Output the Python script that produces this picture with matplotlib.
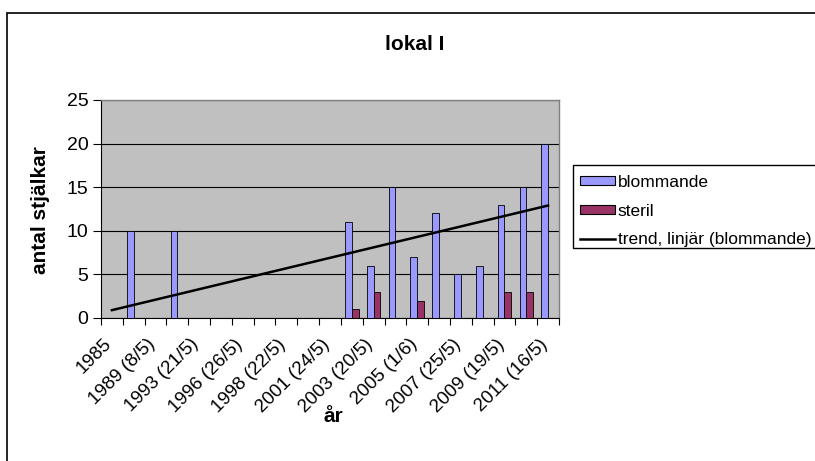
import matplotlib
matplotlib.use("Agg")
import matplotlib.pyplot as plt
import matplotlib.transforms as mtransforms
import numpy as np
from matplotlib.patches import Rectangle, Patch
from matplotlib.lines import Line2D

plt.rcParams['font.family'] = ['Liberation Sans', 'DejaVu Sans']

# ---- data ----
tick_labels = ["1985", "1989 (8/5)", "1993 (21/5)", "1996 (26/5)", "1998 (22/5)",
               "2001 (24/5)", "2003 (20/5)", "2005 (1/6)", "2007 (25/5)",
               "2009 (19/5)", "2011 (16/5)"]
n_categories = 21
blommande = [0, 10, 0, 10, 0, 0, 0, 0, 0, 0, 0, 11, 6, 15, 7, 12, 5, 6, 13, 15, 20]
steril =    [0, 0, 0, 0, 0, 0, 0, 0, 0, 0, 0, 1, 3, 0, 2, 0, 0, 0, 3, 3, 0]
trend_ends = [0.9, 12.9]   # linear trend (blommande) at first and last category
y_ticks = [0, 5, 10, 15, 20, 25]

W, H = 815, 461
fig = plt.figure(figsize=(W/100, H/100), dpi=100)

# outer chart border (cropped on the right and bottom)
fig.patches.append(Rectangle((7/W, -0.1), 1.2, (H-13)/H + 0.1, transform=fig.transFigure,
                             fill=False, edgecolor='black', linewidth=1.2))

ax = fig.add_axes([101/W, 1-318/H, (559-101)/W, (318-100)/H])
ax.set_facecolor('#C0C0C0')

x = np.arange(n_categories)
bw = 0.31
ax.bar(x - bw/2, blommande, width=bw, color='#9999FF', edgecolor='black', linewidth=0.6, zorder=3)
ax.bar(x + bw/2, steril, width=bw, color='#993366', edgecolor='black', linewidth=0.6, zorder=3)
ax.plot([x[0], x[-1]], trend_ends, color='black', linewidth=1.8, zorder=4)

ax.set_xlim(-0.5, n_categories - 0.5)
ax.set_ylim(0, 25)
ax.set_yticks(y_ticks)
ax.yaxis.grid(True, color='black', linewidth=0.8, zorder=1)
ax.set_axisbelow(True)

ax.set_xticks(np.arange(-0.5, n_categories, 1.0), minor=True)
ax.set_xticks(x[::2])
ax.set_xticklabels(tick_labels, rotation=45, ha='right', va='center', rotation_mode='anchor')
ax.tick_params(axis='x', which='major', length=0, pad=17, labelsize=13.5)
ax.tick_params(axis='x', which='minor', length=5, width=0.8, direction='out')
ax.tick_params(axis='y', length=6, width=0.8, direction='out', labelsize=14, pad=3)
shift = mtransforms.ScaledTranslation(-3/100, 0, fig.dpi_scale_trans)
for lab in ax.get_xticklabels():
    lab.set_transform(lab.get_transform() + shift)

for s in ['top', 'right']:
    ax.spines[s].set_color('#808080')
    ax.spines[s].set_linewidth(1.0)
for s in ['left', 'bottom']:
    ax.spines[s].set_color('black')
    ax.spines[s].set_linewidth(0.8)

fig.text(415/W, 1-45/H, "lokal I", ha='center', va='center', fontsize=15, fontweight='bold')
fig.text(41/W, 1-210/H, "antal stjälkar", ha='center', va='center', rotation=90,
         fontsize=15, fontweight='bold')
fig.text(333/W, 1-416/H, "år", ha='center', va='center', fontsize=15, fontweight='bold')

# legend frame (cropped at the right edge like the reference)
fig.patches.append(Rectangle((573/W, 1-248/H), 0.5, (248-165)/H, transform=fig.transFigure,
                             fill=False, edgecolor='black', linewidth=1.0))
handles = [Patch(facecolor='#9999FF', edgecolor='black', linewidth=0.8),
           Patch(facecolor='#993366', edgecolor='black', linewidth=0.8),
           Line2D([], [], color='black', linewidth=1.8)]
labels = ["blommande", "steril", "trend, linjär (blommande)"]
leg = fig.legend(handles, labels, loc='upper left', bbox_to_anchor=(580/W, 1-175/H),
                 frameon=False, fontsize=12.5,
                 handlelength=2.0, handleheight=0.4, handletextpad=0.17, labelspacing=0.78,
                 borderpad=0, borderaxespad=0)

fig.savefig("out.png", dpi=100)
